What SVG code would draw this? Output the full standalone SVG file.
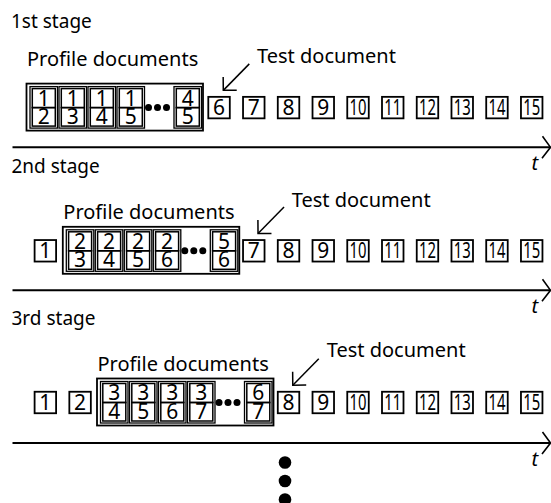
<svg xmlns="http://www.w3.org/2000/svg" width="551" height="503" viewBox="0 0 551 503">
<style>
text{font-family:"Noto Sans","Liberation Sans",sans-serif;fill:#000}
.stage{font-size:19px}
.lbl{font-size:20px}
.num{font-size:21px;text-anchor:middle}
.t{font-size:20px;font-style:italic}
.box{fill:#fff;stroke:#000;stroke-width:1.8}
.outer{fill:#fff;stroke:#000;stroke-width:1.8}
.pair{fill:none;stroke:#000;stroke-width:1.3}
.sq{fill:none;stroke:#000;stroke-width:1.5}
.axis{stroke:#000;stroke-width:2;fill:none}
.ptr{stroke:#000;stroke-width:1.5;fill:none}
</style>
<defs>
<marker id="axhead" markerUnits="userSpaceOnUse" viewBox="-15 -15 30 30" markerWidth="30" markerHeight="30" refX="0" refY="0" orient="auto" overflow="visible">
<path d="M -8,-11 L 0,0 L -8.5,11" fill="none" stroke="#000" stroke-width="1.6"/>
</marker>
<marker id="ptrhead" markerUnits="userSpaceOnUse" viewBox="-15 -15 30 30" markerWidth="30" markerHeight="30" refX="0" refY="0" orient="auto" overflow="visible">
<path d="M -9.5,-9.5 L 0,0 L -9.5,9.5" fill="none" stroke="#000" stroke-width="1.5"/>
</marker>
</defs>
<rect width="551" height="503" fill="#fff"/>

<!-- stage labels -->
<g id="stage1-label"><text class="stage" x="11" y="27.7">1st stage</text></g>
<g id="stage2-label"><text class="stage" x="11.5" y="173.3">2nd stage</text></g>
<g id="stage3-label"><text class="stage" x="11.5" y="325">3rd stage</text></g>

<!-- ===== Stage 1 ===== -->
<g id="profile1">
<text class="lbl" x="27" y="66">Profile documents</text>
<rect class="outer" x="26.5" y="83.6" width="176.5" height="47"/>
<g id="p1-12"><rect class="pair" x="30" y="86.6" width="27.5" height="41.5"/><rect class="sq" x="32.3" y="88.6" width="23" height="19"/><rect class="sq" x="32.3" y="107.6" width="23" height="18.5"/><text class="num"><tspan x="43.8" y="105.6">1</tspan><tspan x="43.8" y="124.3">2</tspan></text></g>
<g id="p1-13"><rect class="pair" x="59" y="86.6" width="27.5" height="41.5"/><rect class="sq" x="61.3" y="88.6" width="23" height="19"/><rect class="sq" x="61.3" y="107.6" width="23" height="18.5"/><text class="num"><tspan x="72.8" y="105.6">1</tspan><tspan x="72.8" y="124.3">3</tspan></text></g>
<g id="p1-14"><rect class="pair" x="88" y="86.6" width="27.5" height="41.5"/><rect class="sq" x="90.3" y="88.6" width="23" height="19"/><rect class="sq" x="90.3" y="107.6" width="23" height="18.5"/><text class="num"><tspan x="101.8" y="105.6">1</tspan><tspan x="101.8" y="124.3">4</tspan></text></g>
<g id="p1-15"><rect class="pair" x="117" y="86.6" width="27.5" height="41.5"/><rect class="sq" x="119.3" y="88.6" width="23" height="19"/><rect class="sq" x="119.3" y="107.6" width="23" height="18.5"/><text class="num"><tspan x="130.8" y="105.6">1</tspan><tspan x="130.8" y="124.3">5</tspan></text></g>
<circle cx="148.5" cy="107.6" r="3.5"/><circle cx="157.5" cy="107.6" r="3.5"/><circle cx="166.5" cy="107.6" r="3.5"/>
<g id="p1-45"><rect class="pair" x="174" y="86.6" width="27.5" height="41.5"/><rect class="sq" x="176.3" y="88.6" width="23" height="19"/><rect class="sq" x="176.3" y="107.6" width="23" height="18.5"/><text class="num"><tspan x="187.8" y="105.6">4</tspan><tspan x="187.8" y="124.3">5</tspan></text></g>
</g>
<g id="s1-d6"><rect class="box" x="208.3" y="96.85" width="21.5" height="21.5"/><text class="num" x="219.05" y="115.1">6</text></g>
<g id="s1-d7"><rect class="box" x="243.04" y="96.85" width="21.5" height="21.5"/><text class="num" x="253.79" y="115.1">7</text></g>
<g id="s1-d8"><rect class="box" x="277.78" y="96.85" width="21.5" height="21.5"/><text class="num" x="288.53" y="115.1">8</text></g>
<g id="s1-d9"><rect class="box" x="312.52" y="96.85" width="21.5" height="21.5"/><text class="num" x="323.27" y="115.1">9</text></g>
<g id="s1-d10"><rect class="box" x="347.26" y="96.85" width="21.5" height="21.5"/><text class="num" x="358.01" y="115.1" textLength="17" lengthAdjust="spacingAndGlyphs">10</text></g>
<g id="s1-d11"><rect class="box" x="382" y="96.85" width="21.5" height="21.5"/><text class="num" x="392.75" y="115.1" textLength="17" lengthAdjust="spacingAndGlyphs">11</text></g>
<g id="s1-d12"><rect class="box" x="416.74" y="96.85" width="21.5" height="21.5"/><text class="num" x="427.49" y="115.1" textLength="17" lengthAdjust="spacingAndGlyphs">12</text></g>
<g id="s1-d13"><rect class="box" x="451.48" y="96.85" width="21.5" height="21.5"/><text class="num" x="462.23" y="115.1" textLength="17" lengthAdjust="spacingAndGlyphs">13</text></g>
<g id="s1-d14"><rect class="box" x="486.22" y="96.85" width="21.5" height="21.5"/><text class="num" x="496.97" y="115.1" textLength="17" lengthAdjust="spacingAndGlyphs">14</text></g>
<g id="s1-d15"><rect class="box" x="520.96" y="96.85" width="21.5" height="21.5"/><text class="num" x="531.71" y="115.1" textLength="17" lengthAdjust="spacingAndGlyphs">15</text></g>
<g id="s1-test"><text class="lbl" x="257" y="63.3">Test document</text></g>
<g id="s1-t"><text class="t" x="531.5" y="170">t</text></g>

<!-- ===== Stage 2 ===== -->
<g id="profile2" transform="translate(36.3,143.2)">
<text class="lbl" x="27" y="76">Profile documents</text>
<rect class="outer" x="26.5" y="83.6" width="176.5" height="47"/>
<g id="p2-23"><rect class="pair" x="30" y="86.6" width="27.5" height="41.5"/><rect class="sq" x="32.3" y="88.6" width="23" height="19"/><rect class="sq" x="32.3" y="107.6" width="23" height="18.5"/><text class="num"><tspan x="43.8" y="105.6">2</tspan><tspan x="43.8" y="124.3">3</tspan></text></g>
<g id="p2-24"><rect class="pair" x="59" y="86.6" width="27.5" height="41.5"/><rect class="sq" x="61.3" y="88.6" width="23" height="19"/><rect class="sq" x="61.3" y="107.6" width="23" height="18.5"/><text class="num"><tspan x="72.8" y="105.6">2</tspan><tspan x="72.8" y="124.3">4</tspan></text></g>
<g id="p2-25"><rect class="pair" x="88" y="86.6" width="27.5" height="41.5"/><rect class="sq" x="90.3" y="88.6" width="23" height="19"/><rect class="sq" x="90.3" y="107.6" width="23" height="18.5"/><text class="num"><tspan x="101.8" y="105.6">2</tspan><tspan x="101.8" y="124.3">5</tspan></text></g>
<g id="p2-26"><rect class="pair" x="117" y="86.6" width="27.5" height="41.5"/><rect class="sq" x="119.3" y="88.6" width="23" height="19"/><rect class="sq" x="119.3" y="107.6" width="23" height="18.5"/><text class="num"><tspan x="130.8" y="105.6">2</tspan><tspan x="130.8" y="124.3">6</tspan></text></g>
<circle cx="148.5" cy="107.6" r="3.5"/><circle cx="157.5" cy="107.6" r="3.5"/><circle cx="166.5" cy="107.6" r="3.5"/>
<g id="p2-56"><rect class="pair" x="174" y="86.6" width="27.5" height="41.5"/><rect class="sq" x="176.3" y="88.6" width="23" height="19"/><rect class="sq" x="176.3" y="107.6" width="23" height="18.5"/><text class="num"><tspan x="187.8" y="105.6">5</tspan><tspan x="187.8" y="124.3">6</tspan></text></g>
</g>
<g id="s2-d1"><rect class="box" x="34.6" y="240.05" width="21.5" height="21.5"/><text class="num" x="45.35" y="258.3">1</text></g>
<g id="s2-d7"><rect class="box" x="243.04" y="240.05" width="21.5" height="21.5"/><text class="num" x="253.79" y="258.3">7</text></g>
<g id="s2-d8"><rect class="box" x="277.78" y="240.05" width="21.5" height="21.5"/><text class="num" x="288.53" y="258.3">8</text></g>
<g id="s2-d9"><rect class="box" x="312.52" y="240.05" width="21.5" height="21.5"/><text class="num" x="323.27" y="258.3">9</text></g>
<g id="s2-d10"><rect class="box" x="347.26" y="240.05" width="21.5" height="21.5"/><text class="num" x="358.01" y="258.3" textLength="17" lengthAdjust="spacingAndGlyphs">10</text></g>
<g id="s2-d11"><rect class="box" x="382" y="240.05" width="21.5" height="21.5"/><text class="num" x="392.75" y="258.3" textLength="17" lengthAdjust="spacingAndGlyphs">11</text></g>
<g id="s2-d12"><rect class="box" x="416.74" y="240.05" width="21.5" height="21.5"/><text class="num" x="427.49" y="258.3" textLength="17" lengthAdjust="spacingAndGlyphs">12</text></g>
<g id="s2-d13"><rect class="box" x="451.48" y="240.05" width="21.5" height="21.5"/><text class="num" x="462.23" y="258.3" textLength="17" lengthAdjust="spacingAndGlyphs">13</text></g>
<g id="s2-d14"><rect class="box" x="486.22" y="240.05" width="21.5" height="21.5"/><text class="num" x="496.97" y="258.3" textLength="17" lengthAdjust="spacingAndGlyphs">14</text></g>
<g id="s2-d15"><rect class="box" x="520.96" y="240.05" width="21.5" height="21.5"/><text class="num" x="531.71" y="258.3" textLength="17" lengthAdjust="spacingAndGlyphs">15</text></g>
<g id="s2-test"><text class="lbl" x="291.7" y="206.7">Test document</text></g>
<g id="s2-t"><text class="t" x="531.5" y="313">t</text></g>

<!-- ===== Stage 3 ===== -->
<g id="profile3" transform="translate(70.5,294.9)">
<text class="lbl" x="27" y="75.8">Profile documents</text>
<rect class="outer" x="26.5" y="83.6" width="176.5" height="47"/>
<g id="p3-34"><rect class="pair" x="30" y="86.6" width="27.5" height="41.5"/><rect class="sq" x="32.3" y="88.6" width="23" height="19"/><rect class="sq" x="32.3" y="107.6" width="23" height="18.5"/><text class="num"><tspan x="43.8" y="105.6">3</tspan><tspan x="43.8" y="124.3">4</tspan></text></g>
<g id="p3-35"><rect class="pair" x="59" y="86.6" width="27.5" height="41.5"/><rect class="sq" x="61.3" y="88.6" width="23" height="19"/><rect class="sq" x="61.3" y="107.6" width="23" height="18.5"/><text class="num"><tspan x="72.8" y="105.6">3</tspan><tspan x="72.8" y="124.3">5</tspan></text></g>
<g id="p3-36"><rect class="pair" x="88" y="86.6" width="27.5" height="41.5"/><rect class="sq" x="90.3" y="88.6" width="23" height="19"/><rect class="sq" x="90.3" y="107.6" width="23" height="18.5"/><text class="num"><tspan x="101.8" y="105.6">3</tspan><tspan x="101.8" y="124.3">6</tspan></text></g>
<g id="p3-37"><rect class="pair" x="117" y="86.6" width="27.5" height="41.5"/><rect class="sq" x="119.3" y="88.6" width="23" height="19"/><rect class="sq" x="119.3" y="107.6" width="23" height="18.5"/><text class="num"><tspan x="130.8" y="105.6">3</tspan><tspan x="130.8" y="124.3">7</tspan></text></g>
<circle cx="148.5" cy="107.6" r="3.5"/><circle cx="157.5" cy="107.6" r="3.5"/><circle cx="166.5" cy="107.6" r="3.5"/>
<g id="p3-67"><rect class="pair" x="174" y="86.6" width="27.5" height="41.5"/><rect class="sq" x="176.3" y="88.6" width="23" height="19"/><rect class="sq" x="176.3" y="107.6" width="23" height="18.5"/><text class="num"><tspan x="187.8" y="105.6">6</tspan><tspan x="187.8" y="124.3">7</tspan></text></g>
</g>
<g id="s3-d1"><rect class="box" x="34.6" y="391.75" width="21.5" height="21.5"/><text class="num" x="45.35" y="410">1</text></g>
<g id="s3-d2"><rect class="box" x="69.34" y="391.75" width="21.5" height="21.5"/><text class="num" x="80.09" y="410">2</text></g>
<g id="s3-d8"><rect class="box" x="277.78" y="391.75" width="21.5" height="21.5"/><text class="num" x="288.53" y="410">8</text></g>
<g id="s3-d9"><rect class="box" x="312.52" y="391.75" width="21.5" height="21.5"/><text class="num" x="323.27" y="410">9</text></g>
<g id="s3-d10"><rect class="box" x="347.26" y="391.75" width="21.5" height="21.5"/><text class="num" x="358.01" y="410" textLength="17" lengthAdjust="spacingAndGlyphs">10</text></g>
<g id="s3-d11"><rect class="box" x="382" y="391.75" width="21.5" height="21.5"/><text class="num" x="392.75" y="410" textLength="17" lengthAdjust="spacingAndGlyphs">11</text></g>
<g id="s3-d12"><rect class="box" x="416.74" y="391.75" width="21.5" height="21.5"/><text class="num" x="427.49" y="410" textLength="17" lengthAdjust="spacingAndGlyphs">12</text></g>
<g id="s3-d13"><rect class="box" x="451.48" y="391.75" width="21.5" height="21.5"/><text class="num" x="462.23" y="410" textLength="17" lengthAdjust="spacingAndGlyphs">13</text></g>
<g id="s3-d14"><rect class="box" x="486.22" y="391.75" width="21.5" height="21.5"/><text class="num" x="496.97" y="410" textLength="17" lengthAdjust="spacingAndGlyphs">14</text></g>
<g id="s3-d15"><rect class="box" x="520.96" y="391.75" width="21.5" height="21.5"/><text class="num" x="531.71" y="410" textLength="17" lengthAdjust="spacingAndGlyphs">15</text></g>
<g id="s3-test"><text class="lbl" x="326.7" y="357.3">Test document</text></g>
<g id="s3-t"><text class="t" x="531.5" y="465.7">t</text></g>

<!-- connectors -->
<g id="connectors">
<line class="axis" x1="12.5" y1="147.3" x2="550.5" y2="147.3" marker-end="url(#axhead)"/>
<line class="axis" x1="12.5" y1="290.3" x2="550.5" y2="290.3" marker-end="url(#axhead)"/>
<line class="axis" x1="12.5" y1="443" x2="550.5" y2="443" marker-end="url(#axhead)"/>
<line class="ptr" x1="249.3" y1="63.85" x2="223.3" y2="90.35" marker-end="url(#ptrhead)"/>
<line class="ptr" x1="284.04" y1="207.05" x2="258.04" y2="233.55" marker-end="url(#ptrhead)"/>
<line class="ptr" x1="318.78" y1="358.75" x2="292.78" y2="385.25" marker-end="url(#ptrhead)"/>
</g>

<!-- continuation dots -->
<g id="more">
<circle cx="285" cy="462.5" r="6.3"/>
<circle cx="285" cy="481" r="6.3"/>
<circle cx="285" cy="499.5" r="6.3"/>
</g>
</svg>
